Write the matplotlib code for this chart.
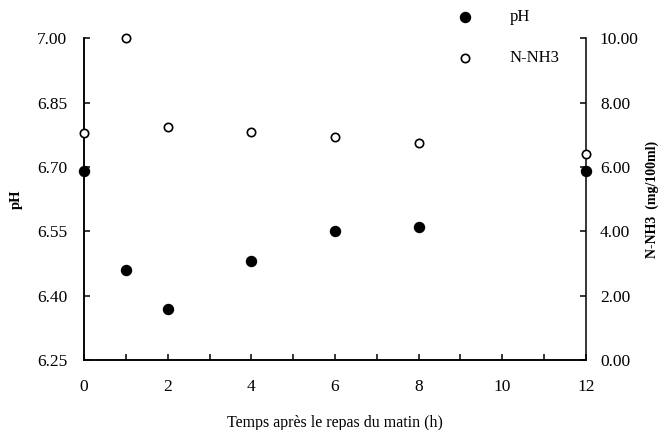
import matplotlib
matplotlib.use("Agg")
import matplotlib.pyplot as plt

plt.rcParams['font.family'] = ['Liberation Serif', 'DejaVu Serif']

# data
hours = [0, 1, 2, 4, 6, 8, 12]
ph = [6.69, 6.46, 6.37, 6.48, 6.55, 6.56, 6.69]
nnh3 = [7.05, 10.0, 7.24, 7.08, 6.92, 6.75, 6.40]

x_ticks = list(range(0, 13))
x_labels = [str(h) if h % 2 == 0 else '' for h in x_ticks]
ph_ticks = [6.25, 6.40, 6.55, 6.70, 6.85, 7.00]
nh_ticks = [0, 2, 4, 6, 8, 10]

fig = plt.figure(figsize=(6.64, 4.30), dpi=100)
ax = fig.add_axes([84 / 664, 1 - 360 / 430, (586 - 84) / 664, (360 - 38.3) / 430])
ax2 = ax.twinx()

p1 = ax.scatter(hours, ph, s=52, color='black', clip_on=False, zorder=3, label='pH')
p2 = ax2.scatter(hours, nnh3, s=36, facecolor='white', edgecolor='black',
                 linewidth=1.2, clip_on=False, zorder=3, label='N-NH3')

ax.set_xlim(0, 12)
ax.set_ylim(6.25, 7.00)
ax2.set_ylim(0, 10)

ax.set_xticks(x_ticks)
ax.set_xticklabels(x_labels)
ax.set_yticks(ph_ticks)
ax.set_yticklabels(['%.2f' % v for v in ph_ticks])
ax2.set_yticks(nh_ticks)
ax2.set_yticklabels(['%.2f' % v for v in nh_ticks])

for a in (ax, ax2):
    a.spines['top'].set_visible(False)
    for s in a.spines.values():
        s.set_linewidth(1.1)
ax.spines['right'].set_visible(False)

ax.tick_params(axis='x', direction='in', length=4, width=1.1, pad=14, labelsize=12.5)
ax.tick_params(axis='y', direction='in', length=4, width=1.1, pad=12, labelsize=12.5)
ax2.tick_params(axis='y', direction='in', length=4, width=1.1, pad=10, labelsize=12.5)

ax.set_xlabel('Temps après le repas du matin (h)', fontsize=11.5, labelpad=14)
ax.set_ylabel('pH', fontsize=10.5, fontweight='bold')
ax.yaxis.set_label_coords(-0.121, 0.5)
ax2.set_ylabel('N-NH3  (mg/100ml)', fontsize=10, fontweight='bold')
ax2.yaxis.set_label_coords(1.119, 0.5)

fig.legend(handles=[p1, p2], loc='upper left', bbox_to_anchor=(448 / 664, 1 - 9 / 430),
           frameon=False, fontsize=12, borderpad=0, borderaxespad=0,
           handlelength=2.0, handletextpad=1.7, labelspacing=1.5)

fig.savefig('out.png', dpi=100)
